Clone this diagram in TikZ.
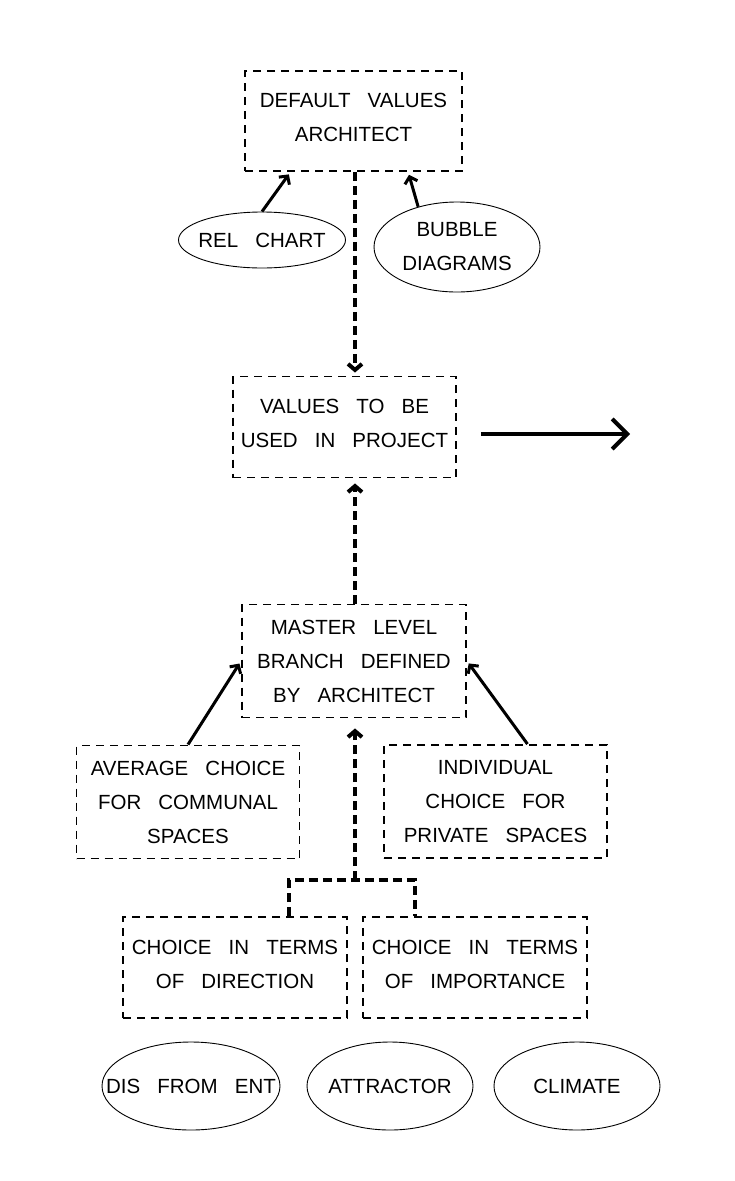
\documentclass[tikz,border=0pt]{standalone}
\usepackage{fontspec}
\setmainfont{Liberation Sans}[WordSpace=3]
\usetikzlibrary{shapes.geometric,arrows.meta}
\begin{document}
\begin{tikzpicture}[x=1pt,y=-1pt,every node/.style={font=\fontsize{20.5}{34}\selectfont},valuebox/.style={draw,line width=1.9pt,dash pattern=on 8pt off 6pt,minimum width=223pt,minimum height=101pt,align=center,inner sep=0pt,text depth=7pt},tallbox/.style={valuebox,minimum height=113pt,text depth=0pt},source/.style={draw,ellipse,line width=0.9pt,inner ysep=0pt,inner xsep=-30pt,minimum width=166pt,minimum height=88pt,align=center},flow/.style={line width=4pt,dash pattern=on 9pt off 5pt},flowarrow/.style={flow,-{Straight Barb[length=6pt,width=14pt]}},pointer/.style={line width=3pt,-{Straight Barb[length=6pt,width=13pt]},shorten >=3pt},bigarrow/.style={line width=4pt,-{Straight Barb[length=15pt,width=30pt]}}]
\fill[white] (0,0) rectangle (734,1181);
\node[valuebox,minimum width=217pt,minimum height=100pt] (def) at (353.5,121) {DEFAULT VALUES\\ARCHITECT};
\node[source,minimum width=167pt,minimum height=56pt] (rel) at (262,240) {REL CHART};
\node[source,minimum height=90pt] (bub) at (457,247) {BUBBLE\\DIAGRAMS};
\node[valuebox] (used) at (344.5,427) {VALUES TO BE\\USED IN PROJECT};
\node[tallbox,minimum width=224pt] (master) at (354,661) {MASTER LEVEL\\BRANCH DEFINED\\BY ARCHITECT};
\node[tallbox,text depth=-7pt] (avg) at (188,802) {AVERAGE CHOICE\\FOR COMMUNAL\\SPACES};
\node[tallbox] (ind) at (495.5,801.5) {INDIVIDUAL\\CHOICE FOR\\PRIVATE SPACES};
\node[valuebox,minimum width=224pt] (dir) at (235,967.5) {CHOICE IN TERMS\\OF DIRECTION};
\node[valuebox,minimum width=224pt] (imp) at (475,967.5) {CHOICE IN TERMS\\OF IMPORTANCE};
\node[source,minimum width=178pt] (dis) at (191,1086) {DIS FROM ENT};
\node[source] (attr) at (390,1086) {ATTRACTOR};
\node[source] (clim) at (577,1086) {CLIMATE};
\coordinate (exit) at (630,434);
\coordinate (join) at (355,880);
\coordinate (legL) at (289,880);
\coordinate (legR) at (415,880);
\draw[pointer] (rel.north) -- (def.219);
\draw[pointer] (bub.134) -- (def.317);
\draw[flowarrow,shorten >=3pt] (def.south -| join) -- (used.north -| join);
\draw[flowarrow,shorten >=5pt] (master.north -| join) -- (used.south -| join);
\draw[bigarrow,shorten <=24pt] (used.east |- exit) -- (exit);
\draw[pointer] (avg.north) -- (master.west);
\draw[pointer] ([xshift=32pt]ind.north) -- (master.east);
\draw[flow] (legL |- dir.north) -- (legL) -- (legR) -- (legR |- imp.north);
\draw[flowarrow,shorten >=10pt] (join) -- (join |- master.south);
\end{tikzpicture}
\end{document}
